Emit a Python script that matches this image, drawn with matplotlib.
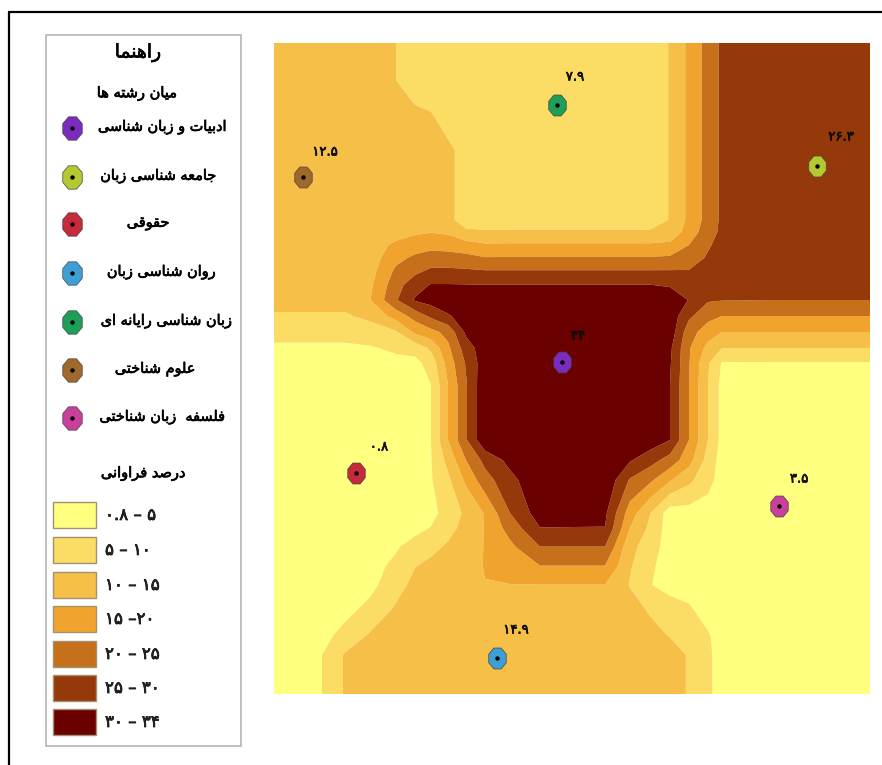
import numpy as np
import matplotlib
matplotlib.use("Agg")
import matplotlib.pyplot as plt
import matplotlib.patheffects as pe
from matplotlib.markers import MarkerStyle
from matplotlib.patches import Rectangle
from matplotlib.transforms import Affine2D

# frequency surface, one row per grid_y, one value per grid_x
grid_x = [274, 322, 345, 370, 396, 415, 431, 448, 466, 485, 510, 540, 605, 630, 650, 670, 689, 708, 722, 770, 820, 870]
grid_y = [43, 80, 105, 125, 150, 220, 232, 245, 258, 271, 285, 300, 316, 332, 348, 363, 385, 440, 460, 480, 513, 528, 547, 566, 585, 610, 635, 655, 694]
freq = [
    [12.5, 12.5, 12.5, 12, 10, 8, 7.5, 7.5, 7.5, 7.5, 7.5, 7.5, 7.5, 7.5, 8, 10.2, 16.2, 21.9, 26, 27, 27, 27],
    [12.5, 12.5, 12.5, 12, 10, 8, 7.5, 7.5, 7.5, 7.5, 7.5, 7.5, 7.5, 7.5, 8, 10.2, 16.2, 21.9, 26, 27, 27, 27],
    [12.5, 12.5, 12.5, 12.5, 12, 10, 9, 7.5, 7.5, 7.5, 7.5, 7.5, 7.5, 7.5, 8, 10.2, 16.2, 21.9, 26, 27, 27, 27],
    [12.5, 12.5, 12.5, 12.5, 12.5, 12.5, 12, 8, 7.5, 7.5, 7.5, 7.5, 7.5, 7.5, 8, 10.2, 16.2, 21.9, 26, 27, 27, 27],
    [12.5, 12.5, 12.5, 12.5, 12.5, 12.5, 12.5, 11.5, 7.5, 7.5, 7.5, 7.5, 7.5, 7.5, 8, 10.2, 16.2, 21.9, 26, 27, 27, 27],
    [12.5, 12.5, 12.5, 12.5, 12.5, 12.5, 12.5, 11.5, 7.5, 7.5, 7.5, 7.5, 7.5, 7.5, 8, 10.2, 16.2, 21.9, 26, 27, 27, 27],
    [12.5, 12.5, 12.5, 12.5, 13, 14.2, 14.8, 14.2, 11, 10.5, 10.6, 10.6, 10.6, 10.6, 10.5, 12, 17, 23, 26, 27, 27, 27],
    [12.5, 12.5, 12.5, 12.5, 16, 17.5, 18.5, 18, 17, 15.6, 15.7, 15.7, 15.7, 15.7, 15.7, 16, 20, 24.5, 26.5, 27, 27, 27],
    [12.5, 12.5, 12.5, 12.5, 18.5, 21, 22, 22, 21.5, 20.3, 20.4, 20.4, 20.4, 20.4, 20.4, 20.8, 23, 25.5, 27, 27, 27, 27],
    [12.5, 12.5, 12.5, 13, 21, 23.8, 26, 26, 25.7, 25.3, 25.3, 25.3, 25.3, 25.3, 25.3, 25.3, 25.2, 27, 27, 27, 27, 27],
    [12.5, 12.5, 12.5, 14, 23, 28, 30.3, 30.3, 30.2, 30.1, 30.1, 30.1, 30.1, 30.1, 30.1, 29.5, 27.5, 27, 27, 27, 27, 27],
    [11.5, 11.5, 11.5, 14.8, 24.5, 30.5, 32, 33, 33, 33, 33, 33, 33, 33, 33, 33, 29.8, 25.5, 25.2, 25, 25, 25],
    [9.5, 9.5, 9.5, 11, 17, 22, 26, 29.5, 32, 33, 33, 34, 34, 33, 33, 33, 26, 21.5, 20, 20, 20, 20],
    [7, 7, 7, 8, 9.5, 16, 18.5, 21.5, 31, 33, 34, 34, 34, 34, 34, 33, 22, 17.5, 15, 15, 15, 15],
    [4, 4, 4, 4.5, 6, 7, 11, 19, 27.5, 33, 34, 34, 34, 34, 34, 31, 20.5, 13.5, 10, 10, 10, 10],
    [3.5, 3.5, 3.5, 3.5, 3.5, 3.5, 7, 17, 25.5, 33, 34, 34, 34, 34, 33, 30.5, 20.3, 10.5, 4.6, 4.7, 4.7, 4.7],
    [3, 3, 3, 3, 3, 3, 5, 15, 24.5, 34, 34, 34, 34, 34, 33, 30, 20, 10, 3.5, 3.5, 3.5, 3.5],
    [3, 3, 3, 3, 3, 3, 5, 15, 24.5, 34, 34, 34, 34, 34, 33, 30, 20, 10, 3.5, 3.5, 3.5, 3.5],
    [3, 3, 3, 3, 3, 3, 4.8, 11.5, 20, 26.5, 31.5, 34, 34, 30.5, 27, 23, 17, 8, 3, 3, 3, 3],
    [3, 3, 3, 3, 3, 3, 4.6, 9, 16, 23, 28.5, 34, 34, 24.5, 21, 15.5, 11.2, 6.5, 3, 3, 3, 3],
    [3, 3, 3, 3, 3, 3, 3.5, 7, 11, 15.4, 25, 32.5, 31, 17.5, 10.2, 2.5, 3, 3, 3, 3, 3, 3],
    [3, 3, 3, 3, 3, 3.5, 5.2, 8.5, 11.5, 15.3, 22, 29.9, 29.9, 15, 9, 2.5, 3, 3, 3, 3, 3, 3],
    [3, 3, 3, 3, 4.5, 7, 8.7, 10.7, 13, 15.2, 18.8, 24.9, 24.9, 11.5, 7.5, 2.5, 3, 3, 3, 3, 3, 3],
    [3, 3, 3, 3.5, 6, 9.8, 11.2, 12.3, 13.5, 15.2, 17, 19.9, 19.9, 10.5, 6, 2.5, 3, 3, 3, 3, 3, 3],
    [3, 3, 3, 3.6, 8, 11.5, 12.5, 12.5, 12.5, 14.9, 14.9, 14.9, 14.9, 9.7, 5.3, 2.5, 3, 3, 3, 3, 3, 3],
    [3, 3, 3.6, 6.5, 10.8, 12.5, 12.5, 12.5, 12.5, 12.5, 12.5, 12.5, 12.5, 12, 9.5, 8.3, 5.7, 3, 3, 3, 3, 3],
    [3, 3.5, 6.5, 10.5, 12.5, 12.5, 12.5, 12.5, 12.5, 12.5, 12.5, 12.5, 12.5, 12.5, 11.5, 9.7, 7.8, 5.4, 3, 3, 3, 3],
    [3, 5, 10.5, 12.5, 12.5, 12.5, 12.5, 12.5, 12.5, 12.5, 12.5, 12.5, 12.5, 12.5, 12.5, 12, 9.6, 5.9, 3, 3, 3, 3],
    [3, 5, 10.5, 12.5, 12.5, 12.5, 12.5, 12.5, 12.5, 12.5, 12.5, 12.5, 12.5, 12.5, 12.5, 12, 9.6, 5.9, 3, 3, 3, 3],
]
class_breaks = [0.8, 5, 10, 15, 20, 25, 30, 34]
class_colors = ["#ffff80", "#fbdd65", "#f6c048", "#f0a42e", "#c6701c", "#96390a", "#6b0000"]
class_labels = ["۰.۸ – ۵", "۵ – ۱۰", "۱۰ – ۱۵", "۱۵ –۲۰", "۲۰ – ۲۵", "۲۵ – ۳۰", "۳۰ – ۳۴"]

# fields of study, same order as the legend
fields = ["ادبیات و زبان شناسی", "جامعه شناسی زبان", "حقوقی", "روان شناسی زبان",
          "زبان شناسی رایانه ای", "علوم شناختی", "فلسفه  زبان شناختی"]
field_colors = ["#7b2cbf", "#b5c832", "#c62a3c", "#3e9fd6", "#1f9e58", "#a0692b", "#c8409c"]
field_x = [562, 817, 356, 497, 557, 303, 779]
field_y = [362, 166, 473, 658, 105, 177, 506]
field_values = ["۳۴", "۲۶.۳", "۰.۸", "۱۴.۹", "۷.۹", "۱۲.۵", "۳.۵"]
value_x = [578, 841, 379, 516, 575, 325, 799]
value_y = [336, 137, 447, 630, 77, 152, 479]
legend_text_x = [162, 158, 148, 161, 166, 155, 162]
legend_row_y = [128, 177, 224, 273, 322, 370, 418]
swatch_y = [502, 537, 572, 606, 641, 675, 709]

# matplotlib does no arabic shaping, so pick the joined glyphs by hand
# (isolated, final, initial, medial)
FORMS = {
    "ا": (0xFE8D, 0xFE8E), "د": (0xFEA9, 0xFEAA), "ر": (0xFEAD, 0xFEAE),
    "ز": (0xFEAF, 0xFEB0), "و": (0xFEED, 0xFEEE),
    "ب": (0xFE8F, 0xFE90, 0xFE91, 0xFE92), "ت": (0xFE95, 0xFE96, 0xFE97, 0xFE98),
    "ج": (0xFE9D, 0xFE9E, 0xFE9F, 0xFEA0), "ح": (0xFEA1, 0xFEA2, 0xFEA3, 0xFEA4),
    "خ": (0xFEA5, 0xFEA6, 0xFEA7, 0xFEA8), "س": (0xFEB1, 0xFEB2, 0xFEB3, 0xFEB4),
    "ش": (0xFEB5, 0xFEB6, 0xFEB7, 0xFEB8), "ص": (0xFEB9, 0xFEBA, 0xFEBB, 0xFEBC),
    "ع": (0xFEC9, 0xFECA, 0xFECB, 0xFECC), "ف": (0xFED1, 0xFED2, 0xFED3, 0xFED4),
    "ق": (0xFED5, 0xFED6, 0xFED7, 0xFED8), "ل": (0xFEDD, 0xFEDE, 0xFEDF, 0xFEE0),
    "م": (0xFEE1, 0xFEE2, 0xFEE3, 0xFEE4), "ن": (0xFEE5, 0xFEE6, 0xFEE7, 0xFEE8),
    "ه": (0xFEE9, 0xFEEA, 0xFEEB, 0xFEEC), "ی": (0xFBFC, 0xFBFD, 0xFBFE, 0xFBFF),
}


def shape(word):
    out = []
    for i, ch in enumerate(word):
        if ch not in FORMS:
            out.append(ch)
            continue
        prev_joins = i > 0 and word[i - 1] in FORMS and len(FORMS[word[i - 1]]) == 4
        next_joins = i + 1 < len(word) and word[i + 1] in FORMS and len(FORMS[ch]) == 4
        if prev_joins and next_joins:
            form = 3
        elif next_joins:
            form = 2
        elif prev_joins:
            form = 1
        else:
            form = 0
        out.append(chr(FORMS[ch][form]))
    return "".join(reversed(out))


plt.rcParams["font.family"] = ["DejaVu Sans"]
fig = plt.figure(figsize=(8.82, 7.65), dpi=100)
ax = fig.add_axes([0, 0, 1, 1])
ax.set_xlim(0, 882)
ax.set_ylim(765, 0)
ax.axis("off")

# regular weight with a thin stroke is narrower than the bold face
thick = [pe.withStroke(linewidth=0.5, foreground="black")]

# outer frame, only top and left survive in the picture
ax.plot([9, 9], [765, 12], color="black", lw=1.6, solid_capstyle="butt")
ax.plot([8, 882], [12, 12], color="black", lw=1.6, solid_capstyle="butt")

levels = class_breaks[:-1] + [class_breaks[-1] + 0.1]
ax.contourf(grid_x, grid_y, np.array(freq), levels=levels, colors=class_colors, antialiased=True)


def octagon(x, y, color, w):
    marker = MarkerStyle("8", transform=Affine2D().scale(1, 1.2))
    ax.scatter([x], [y], s=w, marker=marker, facecolor=color, edgecolor="#444444", linewidth=0.5, zorder=5)
    ax.scatter([x], [y], s=10, marker="o", color="black", linewidth=0, zorder=6)


for x, y, c, tx, ty, v in zip(field_x, field_y, field_colors, value_x, value_y, field_values):
    octagon(x, y, c, 185)
    ax.text(tx, ty, v, ha="center", va="center", fontsize=9.5, color="#111111", path_effects=thick, zorder=6)

# legend box
ax.add_patch(Rectangle((45.5, 34.5), 195.5, 711.5, facecolor="white", edgecolor="#b4b4b4", lw=1.2, zorder=3))
ax.text(138, 53, shape("راهنما"), ha="center", va="center", fontsize=13.5, color="black", path_effects=thick, zorder=6)
ax.text(137, 93, shape("میان رشته ها"), ha="center", va="center", fontsize=10.5, path_effects=thick, zorder=6)
for name, c, tx, y in zip(fields, field_colors, legend_text_x, legend_row_y):
    octagon(72, y, c, 230)
    ax.text(tx, y - 1, shape(name), ha="center", va="center", fontsize=10.4, path_effects=thick, zorder=6)

ax.text(143, 473, shape("درصد فراوانی"), ha="center", va="center", fontsize=10.5, path_effects=thick, zorder=6)
for y, c, lab in zip(swatch_y, class_colors, class_labels):
    ax.add_patch(Rectangle((53, y), 43, 25.5, facecolor=c, edgecolor="#a39270", lw=1, zorder=4))
    ax.text(105, y + 13, lab, ha="left", va="center", fontsize=12, color="#222222", path_effects=thick, zorder=6)

fig.savefig("out.png", dpi=100, facecolor="white")
